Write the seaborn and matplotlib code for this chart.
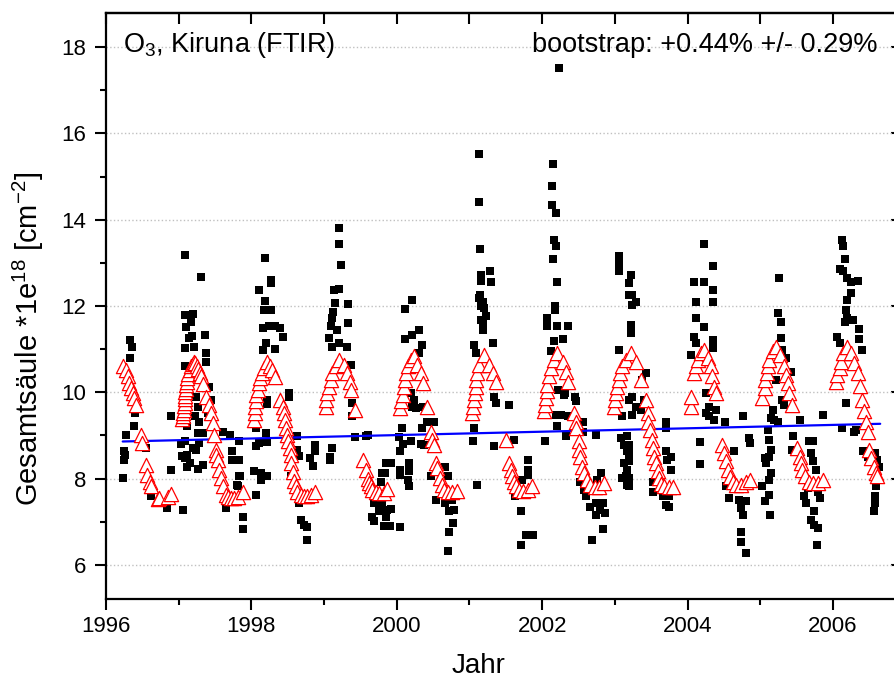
import pandas as pd
import seaborn as sns
import matplotlib.pyplot as plt
from matplotlib.ticker import MultipleLocator

meas_year = [
    1996.24, 1996.25, 1996.25, 1996.26, 1996.28, 1996.33, 1996.33, 1996.36, 1996.39, 1996.40,
    1996.55, 1996.62, 1996.84, 1996.89, 1996.89,
    1997.03, 1997.05, 1997.06, 1997.08, 1997.09, 1997.17, 1997.19, 1997.10, 1997.14, 1997.18,
    1997.36, 1997.09, 1997.21, 1997.38, 1997.37, 1997.09, 1997.30, 1997.24, 1997.26, 1997.22,
    1997.28, 1997.12, 1997.26, 1997.33, 1997.08, 1997.28, 1997.19, 1997.12, 1997.24, 1997.08,
    1997.15, 1997.33, 1997.12, 1997.26, 1997.42, 1997.44, 1997.40, 1997.61, 1997.71, 1997.73,
    1997.74, 1997.83, 1997.83, 1997.83, 1997.65, 1997.81, 1997.88, 1997.88, 1997.84, 1997.80,
    1998.19, 1998.27, 1998.27, 1998.10, 1998.19, 1998.17, 1998.27, 1998.16, 1998.24, 1998.32,
    1998.40, 1998.43, 1998.20, 1998.16, 1998.32, 1998.52, 1998.52, 1998.22, 1998.22, 1998.07,
    1998.20, 1998.22, 1998.10, 1998.07, 1998.63, 1998.63, 1998.66, 1998.88, 1998.88, 1998.80,
    1998.85, 1998.55, 1998.04, 1998.13, 1998.21, 1998.13, 1998.07, 1998.66, 1998.68, 1998.72,
    1998.76, 1998.76,
    1999.21, 1999.21, 1999.23, 1999.14, 1999.20, 1999.15, 1999.12, 1999.11, 1999.09, 1999.18,
    1999.33, 1999.33, 1999.07, 1999.11, 1999.21, 1999.31, 1999.37, 1999.38, 1999.38, 1999.43,
    1999.60, 1999.11, 1999.08, 1999.08, 1999.85, 1999.79, 1999.78, 1999.69, 1999.66, 1999.69,
    1999.80, 1999.87, 1999.85, 1999.82, 1999.57, 1999.75, 1999.92, 1999.90, 1999.92, 1999.84,
    2000.21, 2000.11, 2000.31, 2000.21, 2000.11, 2000.35, 2000.30, 2000.19, 2000.24, 2000.21,
    2000.27, 2000.36, 2000.42, 2000.51, 2000.07, 2000.03, 2000.35, 2000.33, 2000.38, 2000.08,
    2000.05, 2000.19, 2000.17, 2000.05, 2000.05, 2000.17, 2000.17, 2000.16, 2000.47, 2000.67,
    2000.70, 2000.54, 2000.67, 2000.76, 2000.79, 2000.72, 2000.77, 2000.72, 2000.71, 2000.05,
    2001.13, 2001.13, 2001.14, 2001.28, 2001.16, 2001.16, 2001.29, 2001.13, 2001.18, 2001.20,
    2001.16, 2001.19, 2001.18, 2001.32, 2001.06, 2001.09, 2001.11, 2001.05, 2001.06, 2001.34,
    2001.36, 2001.34, 2001.55, 2001.61, 2001.81, 2001.81, 2001.80, 2001.72, 2001.63, 2001.71,
    2001.78, 2001.87, 2001.71, 2001.23, 2001.15, 2001.16,
    2002.23, 2002.15, 2002.13, 2002.13, 2002.19, 2002.16, 2002.19, 2002.15, 2002.20, 2002.18,
    2002.18, 2002.07, 2002.06, 2002.20, 2002.36, 2002.28, 2002.16, 2002.12, 2002.22, 2002.30,
    2002.32, 2002.45, 2002.47, 2002.19, 2002.26, 2002.35, 2002.56, 2002.56, 2002.21, 2002.33,
    2002.04, 2002.74, 2002.52, 2002.58, 2002.60, 2002.66, 2002.74, 2002.83, 2002.79, 2002.74,
    2002.87, 2002.83, 2002.68, 2002.81, 2002.76,
    2003.05, 2003.05, 2003.06, 2003.20, 2003.20, 2003.06, 2003.08, 2003.13, 2003.17, 2003.13,
    2003.15, 2003.17, 2003.10, 2003.10, 2003.20, 2003.22, 2003.23, 2003.29, 2003.24, 2003.22,
    2003.22, 2003.43, 2003.38, 2003.24, 2003.29, 2003.24, 2003.40, 2003.36, 2003.70, 2003.71,
    2003.17, 2003.19, 2003.20, 2003.19, 2003.17, 2003.19, 2003.20, 2003.70, 2003.77, 2003.72,
    2003.77, 2003.52, 2003.52, 2003.66, 2003.75, 2003.70, 2003.75,
    2004.23, 2004.35, 2004.09, 2004.23, 2004.35, 2004.35, 2004.12, 2004.12, 2004.23, 2004.09,
    2004.12, 2004.05, 2004.35, 2004.35, 2004.25, 2004.30, 2004.39, 2004.30, 2004.37, 2004.25,
    2004.52, 2004.76, 2004.85, 2004.86, 2004.17, 2004.17, 2004.53, 2004.57, 2004.71, 2004.80,
    2004.73, 2004.76, 2004.73, 2004.73, 2004.81, 2004.64,
    2005.26, 2005.25, 2005.28, 2005.28, 2005.30, 2005.35, 2005.42, 2005.22, 2005.30, 2005.33,
    2005.17, 2005.19, 2005.24, 2005.15, 2005.55, 2005.86, 2005.10, 2005.12, 2005.15, 2005.12,
    2005.06, 2005.08, 2005.15, 2005.12, 2005.03, 2005.12, 2005.07, 2005.13, 2005.45, 2005.44,
    2005.67, 2005.73, 2005.70, 2005.72, 2005.77, 2005.65, 2005.60, 2005.63, 2005.82, 2005.79,
    2005.74, 2005.70, 2005.74, 2005.79, 2005.78,
    2006.13, 2006.14, 2006.16, 2006.09, 2006.14, 2006.20, 2006.25, 2006.34, 2006.25, 2006.20,
    2006.18, 2006.19, 2006.17, 2006.27, 2006.36, 2006.36, 2006.40, 2006.06, 2006.09, 2006.18,
    2006.12, 2006.29, 2006.32, 2006.41, 2006.48, 2006.58, 2006.61, 2006.63, 2006.59, 2006.58,
    2006.58, 2006.57,
]
meas_col = [
    8.01, 8.44, 8.63, 8.55, 9.02, 10.79, 11.22, 11.06, 9.22, 9.52,
    8.70, 7.60, 7.32, 8.20, 9.44,
    8.80, 8.52, 7.28, 13.19, 11.80, 11.64, 11.82, 11.51, 11.26, 11.30,
    11.32, 11.02, 11.06, 10.91, 10.71, 10.60, 12.67, 9.90, 9.67, 9.44,
    9.32, 9.21, 9.05, 9.05, 8.86, 8.82, 8.71, 8.55, 8.67, 8.47,
    8.37, 8.32, 8.27, 8.22, 10.13, 9.83, 9.52, 9.07, 9.02, 8.63,
    8.44, 8.86, 8.44, 8.05, 7.32, 7.82, 7.12, 6.83, 8.05, 7.86,
    13.11, 12.61, 12.53, 12.38, 12.11, 11.91, 11.91, 11.49, 11.54, 11.54,
    11.49, 11.28, 11.14, 10.98, 11.00, 9.98, 9.90, 9.83, 9.73, 9.17,
    9.05, 8.84, 8.82, 8.76, 8.98, 8.67, 8.53, 8.78, 8.65, 8.47,
    8.30, 8.07, 8.17, 8.13, 8.07, 7.97, 7.62, 7.43, 7.04, 6.93,
    6.89, 6.58,
    13.80, 13.44, 12.96, 12.38, 12.40, 12.07, 11.87, 11.72, 11.53, 11.45,
    12.05, 11.60, 11.26, 11.06, 11.14, 11.05, 10.64, 9.75, 9.44, 8.96,
    9.02, 8.71, 8.50, 8.44, 8.36, 8.13, 7.91, 7.43, 7.12, 7.01,
    7.43, 7.28, 7.12, 6.91, 8.98, 7.25, 7.30, 6.90, 8.37, 8.12,
    12.14, 11.93, 11.45, 11.33, 11.24, 11.10, 10.91, 9.98, 9.83, 9.67,
    9.63, 9.67, 9.32, 9.32, 9.17, 8.96, 9.17, 8.81, 8.78, 8.81,
    8.63, 8.86, 8.36, 8.20, 8.09, 8.17, 7.82, 7.97, 8.05, 8.28,
    8.05, 7.51, 7.43, 7.51, 7.28, 7.24, 6.97, 6.77, 6.33, 6.89,
    15.53, 14.42, 13.33, 12.80, 12.72, 12.57, 12.55, 12.18, 12.10, 11.95,
    11.68, 11.60, 11.45, 11.14, 11.10, 10.91, 7.86, 8.88, 9.17, 8.76,
    9.75, 9.90, 9.71, 8.90, 8.44, 8.20, 8.09, 7.97, 7.59, 7.26,
    6.70, 6.70, 6.47, 11.76, 12.26, 12.00,
    17.51, 15.28, 14.77, 14.35, 14.15, 13.53, 13.38, 13.09, 12.55, 11.99,
    11.90, 11.72, 11.54, 11.54, 11.54, 11.23, 11.18, 10.95, 10.06, 9.94,
    9.98, 9.90, 9.79, 9.48, 9.48, 9.44, 9.32, 9.09, 9.21, 8.98,
    8.86, 9.02, 7.93, 7.74, 7.59, 7.35, 7.43, 7.43, 7.28, 7.16,
    7.20, 6.83, 6.57, 8.13, 7.97,
    13.15, 13.00, 12.80, 12.53, 12.26, 10.98, 8.94, 8.78, 8.63, 8.36,
    8.05, 7.86, 8.01, 9.44, 9.83, 12.72, 12.26, 12.10, 12.03, 11.56,
    11.37, 10.44, 10.29, 9.90, 9.67, 9.48, 9.83, 9.60, 9.32, 9.17,
    8.98, 8.78, 8.59, 8.40, 8.20, 8.01, 7.82, 8.63, 8.51, 8.44,
    8.20, 7.93, 7.70, 7.59, 7.59, 7.39, 7.35,
    13.43, 12.92, 12.55, 12.55, 12.37, 12.10, 12.10, 11.72, 11.51, 11.29,
    11.14, 10.87, 11.22, 11.02, 9.98, 9.67, 9.60, 9.44, 9.36, 9.52,
    9.32, 9.44, 8.94, 8.82, 8.84, 8.34, 7.82, 7.55, 7.51, 7.47,
    7.32, 7.16, 6.77, 6.54, 6.27, 8.63,
    12.65, 11.84, 11.64, 11.26, 10.98, 10.79, 10.48, 10.29, 9.83, 9.71,
    9.60, 9.36, 9.32, 9.40, 9.36, 9.48, 9.13, 8.90, 8.67, 8.51,
    8.47, 8.36, 8.13, 7.97, 7.82, 7.63, 7.47, 7.16, 8.98, 8.67,
    8.86, 8.86, 8.59, 8.40, 8.20, 7.78, 7.59, 7.43, 7.55, 7.70,
    7.24, 7.04, 6.93, 6.85, 6.47,
    13.53, 13.38, 13.10, 12.85, 12.80, 12.65, 12.55, 12.57, 12.30, 12.14,
    11.91, 11.72, 11.64, 11.68, 11.46, 11.23, 10.98, 11.29, 11.14, 9.75,
    9.17, 9.07, 9.13, 8.63, 8.51, 8.59, 8.44, 8.28, 7.82, 7.59,
    7.43, 7.24,
]

# seasonal fit (red open triangles)
fit_year = [
    1996.23, 1996.28, 1996.30, 1996.32, 1996.34, 1996.37, 1996.39, 1996.41, 1996.48, 1996.50,
    1996.55, 1996.57, 1996.60, 1996.62, 1996.71, 1996.73, 1996.85, 1996.89,
    1997.05, 1997.06, 1997.06, 1997.07, 1997.07, 1997.08, 1997.08, 1997.09, 1997.09, 1997.10,
    1997.10, 1997.11, 1997.12, 1997.13, 1997.15, 1997.17, 1997.19, 1997.21, 1997.23, 1997.25,
    1997.27, 1997.29, 1997.31, 1997.33, 1997.38, 1997.42, 1997.44, 1997.47, 1997.49, 1997.51,
    1997.52, 1997.54, 1997.56, 1997.58, 1997.61, 1997.65, 1997.68, 1997.72, 1997.76, 1997.81,
    1997.88,
    1998.04, 1998.05, 1998.05, 1998.06, 1998.07, 1998.09, 1998.11, 1998.12, 1998.14, 1998.17,
    1998.22, 1998.25, 1998.28, 1998.32, 1998.40, 1998.43, 1998.45, 1998.46, 1998.47, 1998.49,
    1998.51, 1998.53, 1998.54, 1998.55, 1998.57, 1998.59, 1998.61, 1998.63, 1998.68, 1998.72,
    1998.77, 1998.82, 1998.88,
    1999.02, 1999.02, 1999.04, 1999.07, 1999.09, 1999.11, 1999.16, 1999.21, 1999.27, 1999.32,
    1999.35, 1999.37, 1999.43, 1999.54, 1999.57, 1999.60, 1999.62, 1999.64, 1999.66, 1999.71,
    1999.76, 1999.82, 1999.87,
    2000.05, 2000.06, 2000.08, 2000.10, 2000.11, 2000.12, 2000.15, 2000.19, 2000.24, 2000.28,
    2000.33, 2000.36, 2000.42, 2000.47, 2000.49, 2000.51, 2000.54, 2000.56, 2000.59, 2000.62,
    2000.65, 2000.70, 2000.76, 2000.83,
    2001.04, 2001.05, 2001.06, 2001.07, 2001.09, 2001.09, 2001.10, 2001.13, 2001.20, 2001.27,
    2001.32, 2001.36, 2001.50, 2001.54, 2001.57, 2001.59, 2001.61, 2001.64, 2001.68, 2001.73,
    2001.80, 2001.86,
    2002.03, 2002.04, 2002.05, 2002.06, 2002.07, 2002.10, 2002.12, 2002.16, 2002.21, 2002.28,
    2002.33, 2002.36, 2002.44, 2002.46, 2002.47, 2002.50, 2002.51, 2002.52, 2002.55, 2002.58,
    2002.61, 2002.66, 2002.72, 2002.78, 2002.85,
    2002.99, 2003.00, 2003.02, 2003.03, 2003.06, 2003.07, 2003.10, 2003.15, 2003.22, 2003.29,
    2003.36, 2003.43, 2003.45, 2003.46, 2003.48, 2003.51, 2003.53, 2003.54, 2003.56, 2003.59,
    2003.61, 2003.63, 2003.68, 2003.75, 2003.80,
    2004.05, 2004.05, 2004.09, 2004.11, 2004.14, 2004.18, 2004.23, 2004.28, 2004.32, 2004.34,
    2004.37, 2004.39, 2004.48, 2004.50, 2004.53, 2004.55, 2004.58, 2004.62, 2004.67, 2004.73,
    2004.80, 2004.86,
    2005.03, 2005.06, 2005.07, 2005.09, 2005.10, 2005.12, 2005.17, 2005.22, 2005.27, 2005.33,
    2005.36, 2005.38, 2005.40, 2005.44, 2005.51, 2005.54, 2005.56, 2005.58, 2005.62, 2005.67,
    2005.72, 2005.79, 2005.86,
    2006.04, 2006.06, 2006.09, 2006.11, 2006.14, 2006.19, 2006.25, 2006.29, 2006.34, 2006.37,
    2006.40, 2006.43, 2006.45, 2006.48, 2006.50, 2006.52, 2006.56, 2006.59, 2006.61,
]
fit_col = [
    10.60, 10.52, 10.37, 10.21, 10.10, 9.98, 9.86, 9.71, 9.01, 8.82,
    8.32, 8.09, 7.93, 7.82, 7.52, 7.55, 7.57, 7.65,
    9.37, 9.45, 9.52, 9.60, 9.68, 9.76, 9.84, 9.92, 10.00, 10.08,
    10.16, 10.25, 10.34, 10.43, 10.52, 10.60, 10.66, 10.70, 10.68, 10.62,
    10.55, 10.45, 10.37, 10.20, 9.90, 9.71, 9.52, 9.29, 9.02, 8.67,
    8.55, 8.44, 8.20, 8.01, 7.82, 7.63, 7.58, 7.55, 7.55, 7.58,
    7.68,
    9.36, 9.52, 9.67, 9.79, 9.94, 10.06, 10.21, 10.33, 10.44, 10.56,
    10.71, 10.62, 10.52, 10.35, 9.83, 9.67, 9.52, 9.36, 9.17, 9.02,
    8.86, 8.71, 8.55, 8.36, 8.15, 7.95, 7.82, 7.70, 7.63, 7.60,
    7.60, 7.63, 7.70,
    9.67, 9.83, 9.98, 10.13, 10.29, 10.44, 10.60, 10.75, 10.64, 10.44,
    10.25, 10.06, 9.60, 8.44, 8.20, 8.00, 7.90, 7.82, 7.74, 7.68,
    7.66, 7.66, 7.76,
    9.63, 9.79, 9.94, 10.13, 10.29, 10.44, 10.60, 10.75, 10.83, 10.64,
    10.44, 10.21, 9.67, 9.09, 8.90, 8.78, 8.36, 8.24, 8.01, 7.86,
    7.74, 7.70, 7.68, 7.72,
    9.52, 9.67, 9.83, 9.98, 10.13, 10.29, 10.44, 10.64, 10.87, 10.64,
    10.44, 10.25, 8.90, 8.36, 8.20, 8.05, 7.93, 7.82, 7.74, 7.72,
    7.74, 7.82,
    9.56, 9.71, 9.86, 10.02, 10.17, 10.37, 10.56, 10.75, 10.91, 10.71,
    10.48, 10.25, 9.52, 9.32, 9.17, 8.86, 8.67, 8.51, 8.28, 8.13,
    7.97, 7.86, 7.80, 7.80, 7.89,
    9.67, 9.83, 9.98, 10.13, 10.29, 10.44, 10.60, 10.75, 10.91, 10.71,
    10.29, 9.83, 9.52, 9.32, 9.13, 8.90, 8.71, 8.51, 8.36, 8.17,
    8.01, 7.88, 7.82, 7.80, 7.80,
    9.67, 9.90, 10.44, 10.60, 10.75, 10.91, 10.98, 10.79, 10.60, 10.37,
    10.13, 9.98, 8.78, 8.59, 8.40, 8.20, 8.03, 7.91, 7.86, 7.86,
    7.91, 7.97,
    9.86, 10.10, 10.29, 10.44, 10.60, 10.75, 10.95, 11.06, 10.87, 10.60,
    10.41, 10.21, 9.98, 9.71, 8.71, 8.51, 8.36, 8.20, 8.05, 7.93,
    7.89, 7.89, 7.97,
    10.25, 10.41, 10.56, 10.71, 10.91, 11.06, 10.91, 10.68, 10.44, 10.14,
    9.83, 9.56, 9.32, 9.09, 8.67, 8.47, 8.28, 8.13, 8.05,
]

# linear trend (blue line)
trend_year = [1996.23, 2006.65]
trend_col = [8.86, 9.27]

sns.set_style("ticks")
plt.rcParams['font.family'] = ['Liberation Sans', 'DejaVu Sans']
plt.rcParams['mathtext.fontset'] = 'custom'
plt.rcParams['mathtext.rm'] = 'Liberation Sans'
plt.rcParams['mathtext.it'] = 'Liberation Sans:italic'
plt.rcParams['axes.edgecolor'] = 'black'
plt.rcParams['axes.labelcolor'] = 'black'
plt.rcParams['text.color'] = 'black'
plt.rcParams['xtick.color'] = 'black'
plt.rcParams['ytick.color'] = 'black'

fig = plt.figure(figsize=(8.95, 6.82), dpi=100)
ax = fig.add_axes([106 / 895, 83 / 682, 794 / 895, 586 / 682])

sns.scatterplot(x=meas_year, y=meas_col, marker='s', color='black', s=36,
                linewidth=0, ax=ax, zorder=2)
sns.lineplot(x=trend_year, y=trend_col, color='blue', linewidth=1.6, ax=ax, zorder=3)
sns.scatterplot(x=fit_year, y=fit_col, marker='^', color='white', edgecolor='red',
                s=105, linewidth=0.9, ax=ax, zorder=4)

ax.set_xlim(1996, 1996 + 793.5 / 72.65)
ax.set_ylim(5.21, 18.79)
ax.xaxis.set_major_locator(MultipleLocator(2))
ax.xaxis.set_minor_locator(MultipleLocator(1))
ax.yaxis.set_major_locator(MultipleLocator(2))
ax.yaxis.set_minor_locator(MultipleLocator(1))
ax.tick_params(which='major', direction='out', length=8, width=1.5, labelsize=16)
ax.tick_params(which='minor', direction='out', length=4.5, width=1.5)
ax.tick_params(axis='y', pad=6)
ax.tick_params(axis='x', pad=4)
ax.grid(axis='y', which='major', linestyle=':', color='#c0c0c0', linewidth=1)
for s in ax.spines.values():
    s.set_linewidth(1.6)

top = ax.secondary_xaxis('top')
top.xaxis.set_major_locator(MultipleLocator(1))
top.tick_params(direction='in', length=8, width=1.5, labeltop=False)
top.spines['top'].set_linewidth(1.6)
right = ax.secondary_yaxis('right')
right.yaxis.set_major_locator(MultipleLocator(2))
right.tick_params(direction='in', length=6.5, width=1.5, labelright=False)

ax.set_xlabel('Jahr', fontsize=20)
ax.xaxis.set_label_coords((479 - 106) / 794, -0.092)
ax.set_ylabel(r'Gesamtsäule *1e$^{\mathregular{18}}$ [cm$^{\mathregular{-2}}$]', fontsize=21)
ax.yaxis.set_label_coords(-0.0756, 0.4445)

ax.text(0.0214, 0.9326, r'O$_{\mathregular{3}}$, Kiruna (FTIR)', transform=ax.transAxes,
        fontsize=19.5, ha='left', va='baseline', zorder=5)
ax.text(0.972, 0.9326, 'bootstrap: +0.44% +/- 0.29%', transform=ax.transAxes,
        fontsize=19.5, ha='right', va='baseline', zorder=5)

plt.savefig('out.png', dpi=100)
